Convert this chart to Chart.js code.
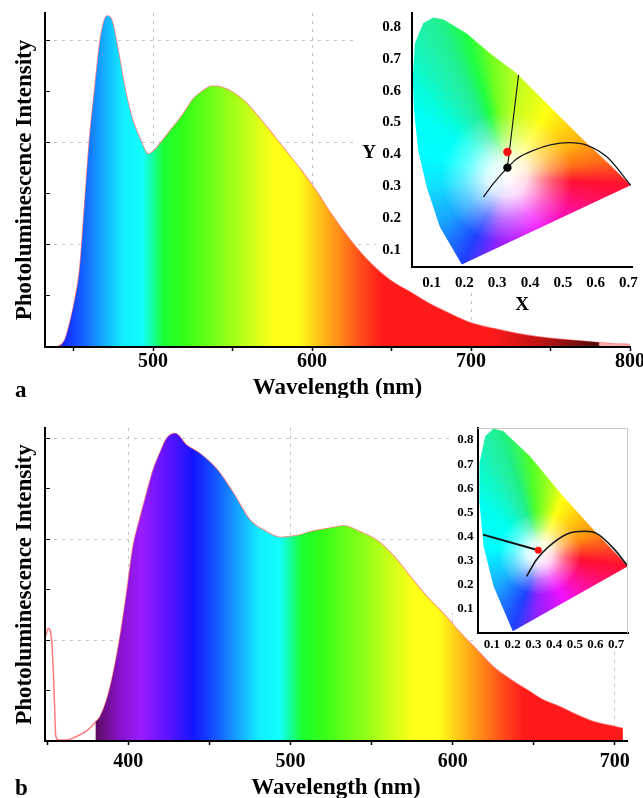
<!DOCTYPE html>
<html>
<head>
<meta charset="utf-8">
<script src="https://cdn.jsdelivr.net/npm/chart.js@4.4.1/dist/chart.umd.min.js"></script>
<style>
  html, body { margin: 0; padding: 0; background: #fff; }
  #wrap { position: relative; width: 643px; height: 798px; overflow: hidden; }
  #wrap canvas { position: absolute; }
</style>
</head>
<body>
<div id="wrap">
  <canvas id="specA" width="643" height="398" style="left:0;top:0"></canvas>
  <canvas id="specB" width="643" height="398" style="left:0;top:400px"></canvas>
  <canvas id="cieA" width="288" height="320" style="left:355px;top:0"></canvas>
  <canvas id="cieB" width="193" height="240" style="left:450px;top:420px"></canvas>
</div>
<script>
/* ---- panel a: emission spectrum ---- */
const wlA = [432, 437, 441, 444.5, 447, 450, 454, 457, 460, 463.5, 466.5, 469, 471, 474, 478, 482, 486.5, 492, 497, 500,
  504.5, 511, 515, 520, 525, 531, 537, 543, 550, 557, 563, 572, 582, 593, 603, 612, 624, 637, 649,
  663, 673, 684, 700, 714, 728, 744, 760, 772, 783, 790, 800];
const intA = [0, 0, 0.02, 0.14, 0.4, 0.8, 1.57, 2.8, 4.05, 5.1, 5.95, 6.35, 6.47, 6.39, 5.8, 5.1, 4.5, 4.05, 3.77, 3.82,
  3.98, 4.24, 4.39, 4.6, 4.84, 5.0, 5.1, 5.08, 4.98, 4.82, 4.62, 4.28, 3.89, 3.46, 3.03, 2.6, 2.09, 1.63, 1.31,
  1.05, 0.86, 0.69, 0.47, 0.36, 0.27, 0.19, 0.14, 0.11, 0.08, 0.06, 0.05];

/* ---- panel b: emission spectrum (with excitation tail at the left) ---- */
const wlB = [349, 350.7, 352.8, 354.2, 355.4, 357, 362, 368, 374, 378.4, 380, 382.6, 386.7, 390.8, 395, 399, 403, 407,
  411.3, 415.4, 419.5, 423.7, 429, 436, 444, 455, 465, 475, 485.5, 494, 500, 506, 512, 518, 525, 533, 543, 553,
  564, 574, 584, 594, 605, 615, 625, 636, 646, 656, 666, 677, 687, 696, 705];
const intB = [2.07, 2.23, 2.0, 1.08, 0.09, 0.02, 0.02, 0.09, 0.19, 0.32, 0.38, 0.48, 0.81, 1.34, 2.07, 2.92, 3.85, 4.38,
  4.9, 5.37, 5.7, 5.99, 6.09, 5.86, 5.7, 5.37, 4.9, 4.38, 4.14, 4.03, 4.05, 4.08, 4.14, 4.18, 4.22, 4.26, 4.14, 3.98,
  3.65, 3.25, 2.86, 2.53, 2.13, 1.8, 1.47, 1.21, 1.01, 0.81, 0.68, 0.51, 0.38, 0.31, 0.25];

const xTicksA = [450, 500, 550, 600, 650, 700, 750, 800];
const xTicksB = [350, 400, 450, 500, 550, 600, 650, 700];
const yTicks = [0, 1, 2, 3, 4, 5, 6];

/* ---- CIE insets ---- */
const cieXTicks = [0.1, 0.2, 0.3, 0.4, 0.5, 0.6, 0.7];
const cieYTicks = [0.1, 0.2, 0.3, 0.4, 0.5, 0.6, 0.7, 0.8];

const locusAX = [0.192, 0.125, 0.085, 0.059, 0.046, 0.042, 0.049, 0.074, 0.105, 0.136, 0.207, 0.278, 0.36, 0.462, 0.564, 0.635, 0.707];
const locusAY = [0.056, 0.173, 0.298, 0.413, 0.539, 0.643, 0.748, 0.811, 0.829, 0.823, 0.779, 0.717, 0.654, 0.549, 0.445, 0.377, 0.304];
const planckAX = [0.258, 0.288, 0.331, 0.36, 0.411, 0.462, 0.52, 0.574, 0.635, 0.707];
const planckAY = [0.267, 0.309, 0.359, 0.387, 0.413, 0.43, 0.437, 0.429, 0.392, 0.304];
const tieAX = [0.331, 0.365];
const tieAY = [0.359, 0.649];
const redA = [0.331, 0.408];
const blackA = [0.331, 0.359];

const locusBX = [0.201, 0.108, 0.06, 0.04, 0.04, 0.068, 0.108, 0.156, 0.284, 0.444, 0.605, 0.757];
const locusBY = [0.007, 0.194, 0.36, 0.54, 0.706, 0.816, 0.848, 0.837, 0.733, 0.567, 0.415, 0.277];
const planckBX = [0.268, 0.316, 0.396, 0.476, 0.549, 0.605, 0.685, 0.757];
const planckBY = [0.235, 0.305, 0.374, 0.415, 0.422, 0.413, 0.353, 0.277];
const tieBX = [0.057, 0.324];
const tieBY = [0.408, 0.343];
const redB = [0.324, 0.343];

/* ---- styling ---- */
const FONT = '"Liberation Serif", "Times New Roman", serif';
const GRID = '#c4c4c4';
// wavelength -> colour of the rainbow fill
const SPECTRUM_STOPS = [
  [300, 'rgba(255,255,255,0)'], [379.6, 'rgba(255,255,255,0)'],
  [380, '#5c0c62'], [394, '#8612c6'], [408, '#9a1cff'], [424, '#5e12ff'], [440, '#1414ff'], [455, '#145cff'],
  [468, '#16a6ff'], [481, '#12eeff'], [493, '#12ffff'], [500, '#14ff9c'], [507, '#1cff30'], [520, '#34ff18'],
  [540, '#7aff18'], [560, '#c6ff18'], [576, '#ffff18'], [591, '#ffff18'], [603, '#ffca18'], [617, '#ff8c18'],
  [631, '#ff4a1a'], [644, '#ff1a1a'], [712, '#ff1a1a'], [742, '#c41414'], [766, '#7c1010'], [780, '#4c0a0a'],
  [781, '#ffaaaa'], [820, '#ffaaaa']
];
// red corner -> blue corner along the line of purples
const PURPLE_LINE = [[0, '#ff1030'], [0.35, '#ff10a0'], [0.55, '#f010ff'], [0.8, '#9020ff'], [1, '#2040ff']];
const locusAColors = ['#2040ff', '#18a0ff', '#10e0ff', '#00ffff', '#00fff4', '#08fcd8', '#18f4b8', '#20f0a4', '#20f094',
  '#20f280', '#20ff40', '#70ff20', '#c0ff20', '#ffff10', '#ffb010', '#ff6818', '#ff1030'];
const locusBColors = ['#2040ff', '#18b0ff', '#00ffff', '#00fff0', '#10f8c8', '#20f0a8', '#20f098', '#20f080', '#50ff28',
  '#ffff10', '#ff9010', '#ff1030'];

Chart.defaults.font.family = FONT;
Chart.defaults.font.weight = 'bold';
Chart.defaults.color = '#000';

const pts = (xs, ys) => xs.map((x, i) => ({ x, y: ys[i] }));

function spectrumGradient(chart) {
  const { ctx, chartArea, scales } = chart;
  if (!chartArea) return 'transparent';
  const lo = SPECTRUM_STOPS[0][0], hi = SPECTRUM_STOPS[SPECTRUM_STOPS.length - 1][0];
  const g = ctx.createLinearGradient(scales.x.getPixelForValue(lo), 0, scales.x.getPixelForValue(hi), 0);
  SPECTRUM_STOPS.forEach(([wl, col]) => g.addColorStop((wl - lo) / (hi - lo), col));
  return g;
}

// free text (panel letters, inset "Y")
const panelText = {
  id: 'panelText',
  afterDraw(chart, args, opts) {
    const ctx = chart.ctx;
    (opts.items || []).forEach(t => {
      ctx.save();
      ctx.font = `bold ${t.size}px ${FONT}`;
      ctx.fillStyle = '#000';
      ctx.textAlign = t.align || 'left';
      ctx.textBaseline = t.baseline || 'alphabetic';
      ctx.fillText(t.text, t.x, t.y);
      ctx.restore();
    });
  }
};

// white backing of the insets, so the main grid does not run through them
const insetBg = {
  id: 'insetBg',
  beforeDraw(chart, args, opts) {
    const { ctx, chartArea: a, width } = chart;
    ctx.save();
    ctx.fillStyle = '#fff';
    opts.rects.forEach(([dl, db]) => ctx.fillRect(a.left - dl, 0, width - a.left + dl, a.bottom + db));
    ctx.restore();
  },
  afterDraw(chart, args, opts) {
    if (!opts.frame) return;
    const { ctx, chartArea: a } = chart;
    ctx.save();
    ctx.strokeStyle = opts.frame;
    ctx.lineWidth = 1;
    ctx.beginPath();
    ctx.moveTo(a.left, a.top + 0.5);
    ctx.lineTo(a.right - 0.5, a.top + 0.5);
    ctx.lineTo(a.right - 0.5, a.bottom);
    ctx.stroke();
    ctx.restore();
  }
};

// colours the chromaticity horseshoe (dataset 0): conic sweep round the white point, whitened at the centre
const cieFill = {
  id: 'cieFill',
  beforeDatasetsDraw(chart, args, opts) {
    const { ctx, chartArea: a, scales } = chart;
    const p = chart.getDatasetMeta(0).data.map(e => ({ x: e.x, y: e.y }));
    const w = { x: scales.x.getPixelForValue(opts.white[0]), y: scales.y.getPixelForValue(opts.white[1]) };
    const red = p[p.length - 1], blue = p[0];
    const a0 = Math.atan2(red.y - w.y, red.x - w.x);
    const TAU = Math.PI * 2;
    const frac = q => {
      let t = Math.atan2(q.y - w.y, q.x - w.x) - a0;
      while (t < 0) t += TAU;
      while (t >= TAU) t -= TAU;
      return t / TAU;
    };
    const g = ctx.createConicGradient(a0, w.x, w.y);
    g.addColorStop(0, PURPLE_LINE[0][1]);
    PURPLE_LINE.slice(1, -1).forEach(([t, c]) =>
      g.addColorStop(frac({ x: red.x + t * (blue.x - red.x), y: red.y + t * (blue.y - red.y) }), c));
    p.slice(0, -1).forEach((q, i) => g.addColorStop(frac(q), opts.colors[i]));
    g.addColorStop(1, opts.colors[opts.colors.length - 1]);

    ctx.save();
    ctx.beginPath();
    ctx.rect(a.left, a.top, a.width, a.height);
    ctx.clip();
    ctx.beginPath();
    p.forEach((q, i) => i ? ctx.lineTo(q.x, q.y) : ctx.moveTo(q.x, q.y));
    ctx.closePath();
    ctx.fillStyle = g;
    ctx.fill();
    ctx.clip();
    const r = Math.abs(scales.x.getPixelForValue(opts.white[0] + opts.radius) - w.x);
    const rg = ctx.createRadialGradient(w.x, w.y, 0, w.x, w.y, r);
    rg.addColorStop(0, 'rgba(255,255,255,1)');
    rg.addColorStop(0.3, 'rgba(255,255,255,0.85)');
    rg.addColorStop(0.65, 'rgba(255,255,255,0.35)');
    rg.addColorStop(1, 'rgba(255,255,255,0)');
    ctx.fillStyle = rg;
    ctx.fillRect(a.left, a.top, a.width, a.height);
    ctx.restore();
  }
};

function spectrumChart(id, wl, inten, o) {
  const data = pts(wl, inten);
  return new Chart(document.getElementById(id), {
    type: 'line',
    data: {
      datasets: [
        { data, order: 0, borderWidth: 0, pointRadius: 0, fill: 'origin',
          backgroundColor: c => spectrumGradient(c.chart), cubicInterpolationMode: 'monotone' },
        { data, order: 1, borderColor: '#ff7a7a', borderWidth: 1.5, pointRadius: 0, fill: false,
          cubicInterpolationMode: 'monotone' }
      ]
    },
    options: {
      animation: false, responsive: false, events: [],
      layout: { padding: { top: o.padTop, right: o.padRight, left: 0, bottom: 0 } },
      plugins: { legend: { display: false }, tooltip: { enabled: false }, panelText: { items: o.text } },
      scales: {
        x: {
          type: 'linear', min: o.xMin, max: o.xMax,
          afterBuildTicks: s => { s.ticks = o.xTicks.map(v => ({ value: v })); },
          afterFit: s => { s.height = o.xHeight; s.paddingLeft = 0; s.paddingRight = 0; },
          ticks: { autoSkip: false, maxRotation: 0, padding: o.tickPad, color: '#000',
            font: { size: 20, weight: 'bold', lineHeight: 1 }, callback: v => v % 100 === 0 ? v : '' },
          grid: { color: c => (c.tick && c.tick.value % 100 === 0 && c.tick.value < o.xMax) ? GRID : 'transparent',
            tickColor: '#000', tickLength: 4, tickWidth: 1.5 },
          border: { color: '#000', width: 2, dash: [3, 5], z: 1 },
          title: { display: true, text: 'Wavelength (nm)', color: '#000',
            font: { size: 23, weight: 'bold', lineHeight: 0.9 }, padding: 0 }
        },
        y: {
          min: 0, max: o.yMax,
          afterBuildTicks: s => { s.ticks = yTicks.map(v => ({ value: v })); },
          afterFit: s => { s.width = 45; s.paddingTop = 0; s.paddingBottom = 0; },
          ticks: { display: false },
          // negative length puts the tick marks inside the frame, as in the original
          grid: { color: c => (c.tick && c.tick.value > 0 && c.tick.value % 2 === 0) ? GRID : 'transparent',
            tickColor: '#000', tickLength: -5 },
          border: { color: '#000', width: 2, dash: [3, 5], z: 1 },
          title: { display: true, text: 'Photoluminescence Intensity', color: '#000',
            font: { size: 23, weight: 'bold', lineHeight: 1.2 }, padding: { top: 11, bottom: 0 } }
        }
      }
    },
    plugins: [panelText]
  });
}

function cieChart(id, c) {
  const dots = c.dots.map(d => ({ x: d[0], y: d[1] }));
  return new Chart(document.getElementById(id), {
    type: 'scatter',
    data: {
      datasets: [
        { data: pts(c.locusX, c.locusY), order: 3, pointRadius: 0, showLine: false },
        { data: pts(c.planckX, c.planckY), order: 2, showLine: true, borderColor: '#1a1a1a',
          borderWidth: c.planckWidth, pointRadius: 0, cubicInterpolationMode: 'monotone' },
        { data: pts(c.tieX, c.tieY), order: 1, showLine: true, borderColor: '#111',
          borderWidth: c.tieWidth, pointRadius: 0 },
        { data: dots, order: 0, pointRadius: c.dotRadius, pointBackgroundColor: c.dotColors,
          pointBorderWidth: 0, showLine: false }
      ]
    },
    options: {
      animation: false, responsive: false, events: [],
      layout: { padding: { top: c.padTop, right: c.padRight, left: 0, bottom: 0 } },
      plugins: {
        legend: { display: false }, tooltip: { enabled: false },
        cieFill: { colors: c.colors, white: [0.33, 0.33], radius: 0.2 },
        insetBg: { rects: c.bgRects, frame: c.frame },
        panelText: { items: c.text || [] }
      },
      scales: {
        x: {
          type: 'linear', min: c.xMin, max: c.xMax,
          afterBuildTicks: s => { s.ticks = cieXTicks.map(v => ({ value: v })); },
          afterFit: s => { s.height = c.xHeight; s.paddingLeft = 0; s.paddingRight = 0; },
          ticks: { autoSkip: false, maxRotation: 0, padding: c.xPad, color: '#000',
            font: { size: c.fontSize, weight: 'bold', lineHeight: 1 }, callback: v => v.toFixed(1) },
          grid: { display: false, drawTicks: false },
          border: { color: '#000', width: 2, z: 1 },
          title: c.xTitle || { display: false }
        },
        y: {
          min: c.yMin, max: c.yMax,
          afterBuildTicks: s => { s.ticks = cieYTicks.map(v => ({ value: v })); },
          afterFit: s => { s.width = c.yWidth; s.paddingTop = 0; s.paddingBottom = 0; },
          ticks: { autoSkip: false, padding: c.yPad, color: '#000',
            font: { size: c.fontSize, weight: 'bold', lineHeight: 1 }, callback: v => v.toFixed(1) },
          grid: { display: false, drawTicks: false },
          border: { color: '#000', width: 2, z: 1 }
        }
      }
    },
    plugins: [insetBg, cieFill, panelText]
  });
}

spectrumChart('specA', wlA, intA, {
  xMin: 432, xMax: 800, yMax: 6.53, xTicks: xTicksA, padTop: 13, padRight: 13, xHeight: 51, tickPad: 1,
  text: [{ text: 'a', x: 15, y: 397, size: 23 }]
});
spectrumChart('specB', wlB, intB, {
  xMin: 348.7, xMax: 707.5, yMax: 6.2, xTicks: xTicksB, padTop: 28, padRight: 16, xHeight: 57, tickPad: 7,
  text: [{ text: 'b', x: 15, y: 395, size: 23 }]
});

cieChart('cieA', {
  locusX: locusAX, locusY: locusAY, colors: locusAColors,
  planckX: planckAX, planckY: planckAY, planckWidth: 1.3,
  tieX: tieAX, tieY: tieAY, tieWidth: 1.1,
  dots: [redA, blackA], dotColors: ['#ff1010', '#000'], dotRadius: 4.2,
  xMin: 0.04, xMax: 0.711, yMin: 0.048, yMax: 0.843,
  padTop: 13, padRight: 11, xHeight: 53, yWidth: 57, xPad: 8.5, yPad: 11, fontSize: 15,
  xTitle: { display: true, text: 'X', color: '#000', font: { size: 19, weight: 'bold', lineHeight: 1 },
    padding: { top: 0, bottom: 5.5 } },
  bgRects: [[54, -62], [36, -8], [0, 24]],
  text: [{ text: 'Y', x: 14, y: 153.5, size: 19, align: 'center', baseline: 'middle' }]
});

cieChart('cieB', {
  locusX: locusBX, locusY: locusBY, colors: locusBColors,
  planckX: planckBX, planckY: planckBY, planckWidth: 1.6,
  tieX: tieBX, tieY: tieBY, tieWidth: 2,
  dots: [redB], dotColors: ['#ff1010'], dotRadius: 3.5,
  xMin: 0.033, xMax: 0.757, yMin: 0, yMax: 0.85,
  padTop: 8, padRight: 15, xHeight: 27, yWidth: 28, xPad: 5.5, yPad: 4.5, fontSize: 13,
  bgRects: [[28, -20], [0, 18]], frame: '#c8c8c8'
});
</script>
</body>
</html>
